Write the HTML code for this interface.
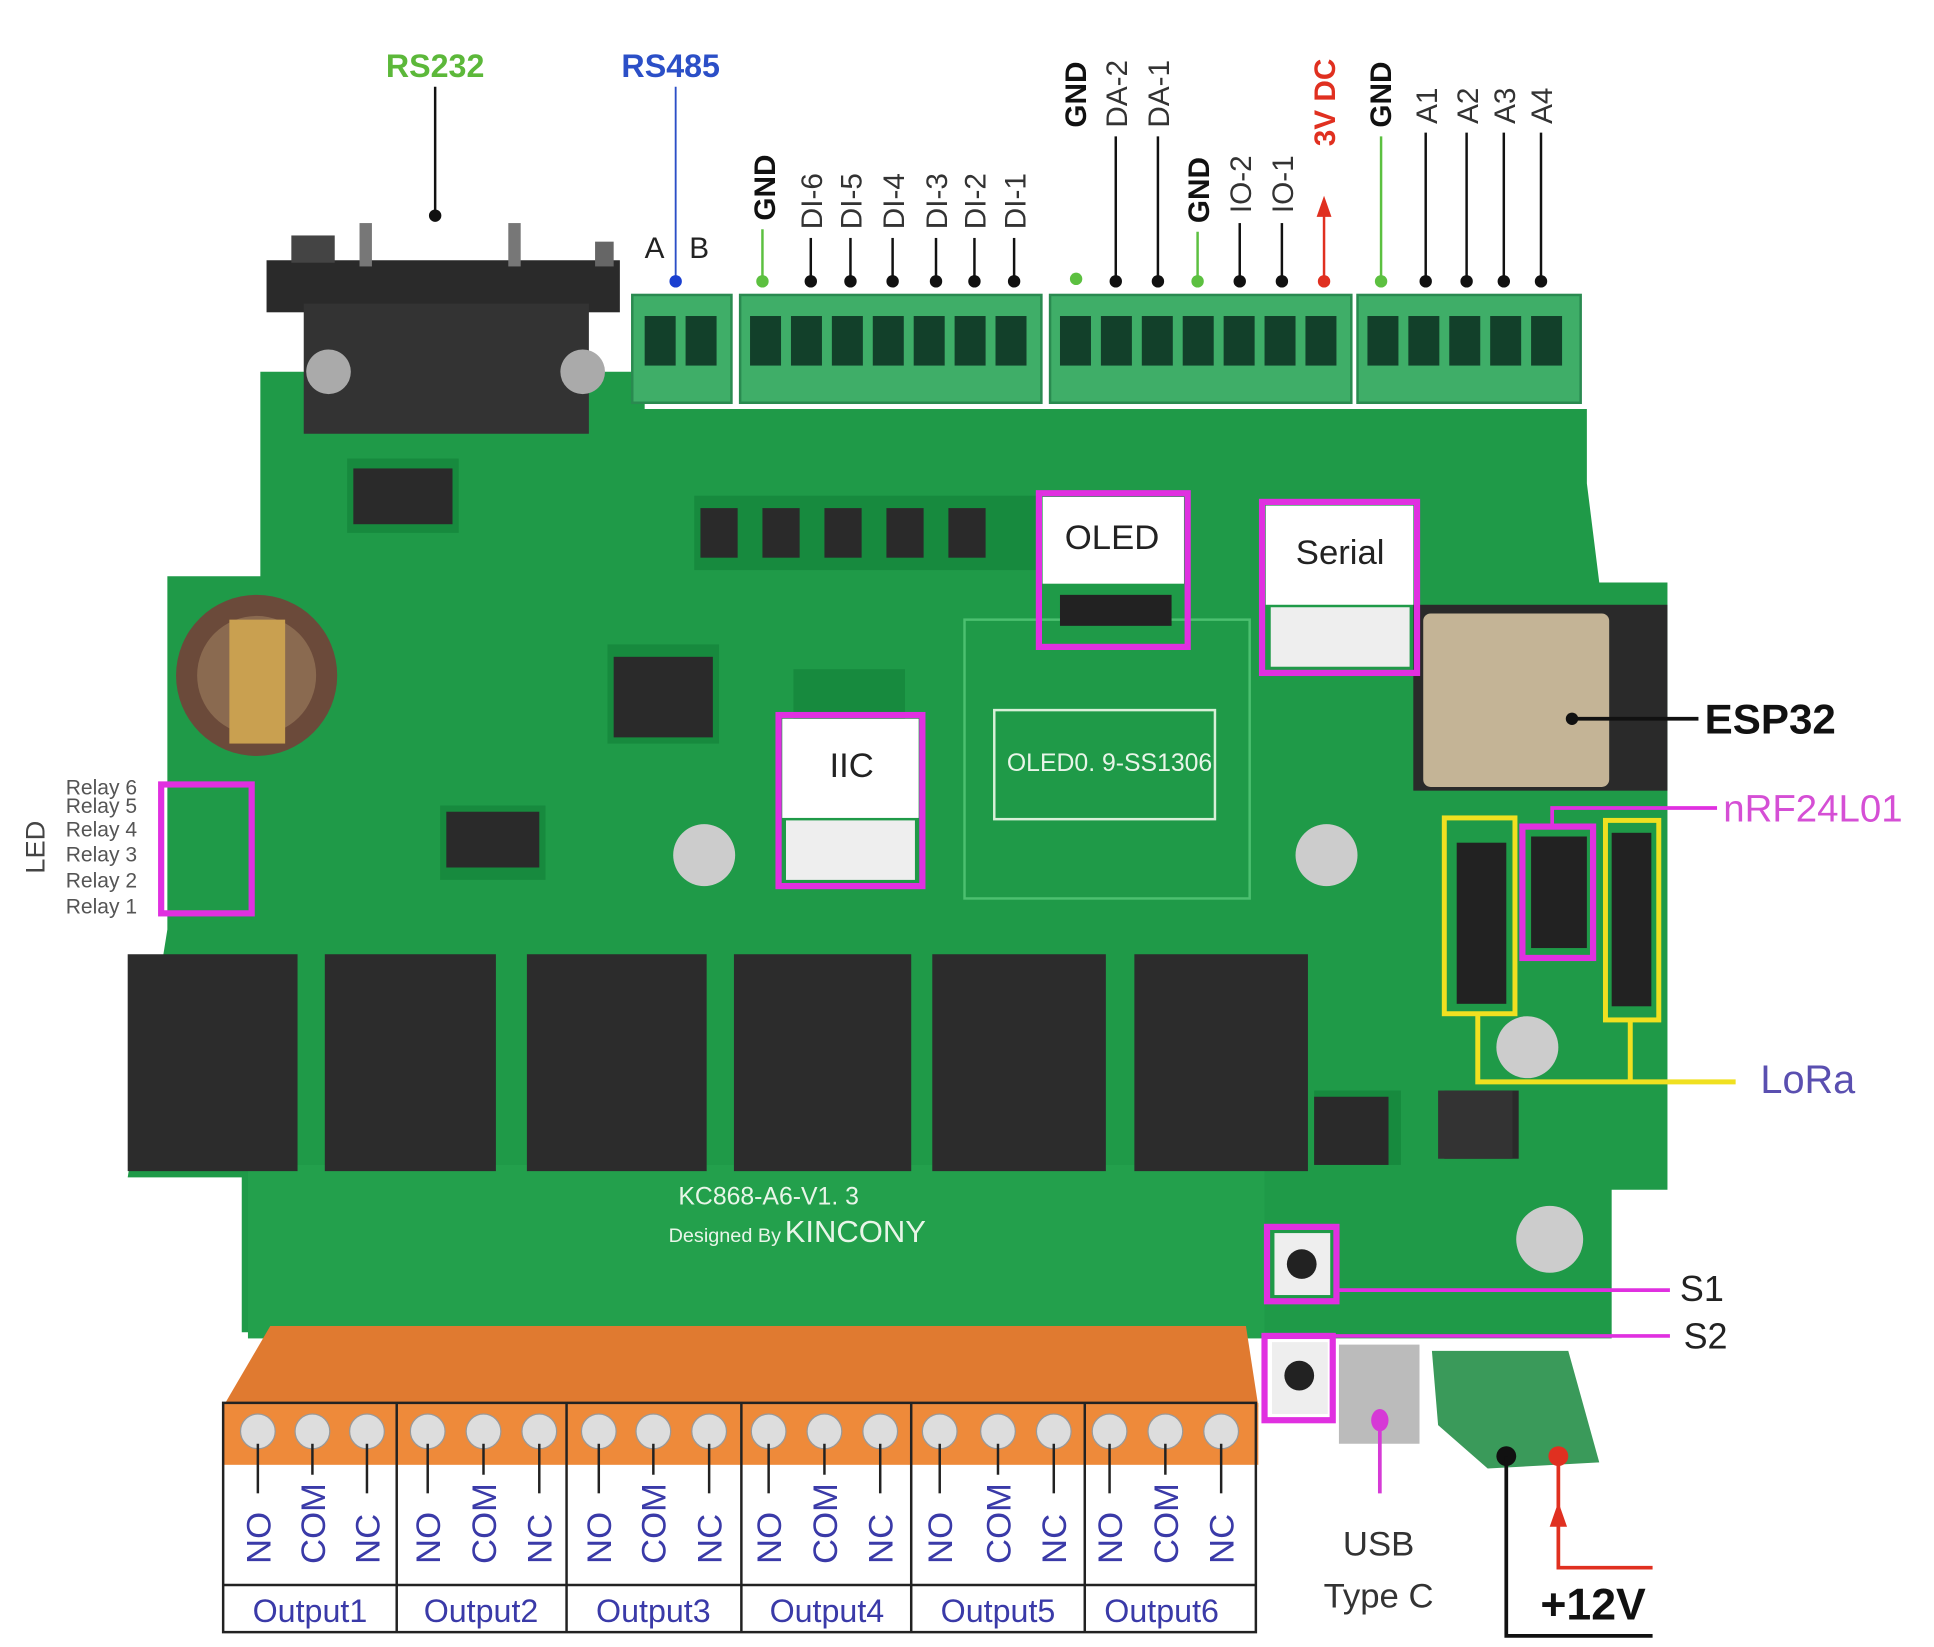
<!DOCTYPE html>
<html><head><meta charset="utf-8"><style>
html,body{margin:0;padding:0;background:#fff;}
svg{display:block;}
text{font-family:"Liberation Sans",sans-serif;}
</style></head><body>
<svg width="1934" height="1647" viewBox="0 0 1560 1329" preserveAspectRatio="none" xmlns="http://www.w3.org/2000/svg">
<rect width="1560" height="1329" fill="#fff"/>
<!-- PCB -->
<path d="M210 300 L520 300 L520 330 L1280 330 L1280 390 L1290 470 L1345 470 L1345 960 L1300 960 L1300 1080 L1020 1080 L1020 1075 L195 1075 L195 950 L103 950 L135 750 L135 465 L210 465 Z" fill="#1f9a48"/>
<rect x="200" y="940" width="820" height="140" fill="#23a04c"/>
<g fill="#178a3e">
<rect x="280" y="370" width="90" height="60"/><rect x="490" y="520" width="90" height="80"/>
<rect x="640" y="540" width="90" height="60"/><rect x="355" y="650" width="85" height="60"/>
<rect x="560" y="400" width="280" height="60"/><rect x="1060" y="880" width="70" height="60"/>
</g>
<g fill="#2a2a2a"><rect x="285" y="378" width="80" height="45"/><rect x="495" y="530" width="80" height="65"/><rect x="360" y="655" width="75" height="45"/><rect x="565" y="410" width="30" height="40"/><rect x="615" y="410" width="30" height="40"/><rect x="665" y="410" width="30" height="40"/><rect x="715" y="410" width="30" height="40"/><rect x="765" y="410" width="30" height="40"/><rect x="1060" y="885" width="60" height="55"/><rect x="1165" y="880" width="60" height="55"/></g>
<rect x="778" y="500" width="230" height="225" fill="none" stroke="#4cc070" stroke-width="2"/>
<rect x="802" y="573" width="178" height="88" fill="none" stroke="#d8f0d8" stroke-width="2"/>
<text x="895" y="622" font-size="20" fill="#e8f5e8" text-anchor="middle" font-family="Liberation Serif,serif">OLED0. 9-SS1306</text>
<text x="620" y="972" font-size="20" fill="#e8f5e8" text-anchor="middle" font-family="Liberation Serif,serif">KC868-A6-V1. 3</text>
<text x="630" y="1002" font-size="16" fill="#e8f5e8" text-anchor="end" font-family="Liberation Serif,serif">Designed By</text>
<text x="633" y="1002" font-size="25" fill="#e8f5e8">KINCONY</text>
<!-- battery -->
<circle cx="207" cy="545" r="65" fill="#6b4a3a"/><circle cx="207" cy="545" r="48" fill="#8a6a50"/><rect x="185" y="500" width="45" height="100" fill="#c9a050"/>
<!-- ESP32 -->
<rect x="1140" y="488" width="205" height="150" fill="#2a2a2a"/><rect x="1148" y="495" width="150" height="140" fill="#c4b496" rx="6"/>
<!-- caps -->
<circle cx="568" cy="690" r="25" fill="#ccc"/><circle cx="1070" cy="690" r="25" fill="#ccc"/><circle cx="1232" cy="845" r="25" fill="#ccc"/><circle cx="1250" cy="1000" r="27" fill="#ccc"/>
<rect x="1160" y="880" width="60" height="55" fill="#333"/>
<!-- DB9 -->
<rect x="215" y="210" width="285" height="42" fill="#2a2a2a"/>
<rect x="245" y="245" width="230" height="105" fill="#333"/>
<rect x="290" y="180" width="10" height="35" fill="#777"/><rect x="410" y="180" width="10" height="35" fill="#777"/>
<rect x="235" y="190" width="35" height="22" fill="#444"/><rect x="480" y="195" width="15" height="20" fill="#666"/>
<circle cx="265" cy="300" r="18" fill="#aaa"/><circle cx="470" cy="300" r="18" fill="#aaa"/>
<!-- green terminal blocks -->
<g fill="#3fae68" stroke="#2a8a50" stroke-width="2">
<rect x="510" y="238" width="80" height="87"/><rect x="597" y="238" width="243" height="87"/><rect x="847" y="238" width="243" height="87"/><rect x="1095" y="238" width="180" height="87"/>
</g>
<g fill="#12402a">
<rect x="520" y="255" width="25" height="40"/><rect x="553" y="255" width="25" height="40"/>
<rect x="605" y="255" width="25" height="40"/><rect x="638" y="255" width="25" height="40"/><rect x="671" y="255" width="25" height="40"/><rect x="704" y="255" width="25" height="40"/><rect x="737" y="255" width="25" height="40"/><rect x="770" y="255" width="25" height="40"/><rect x="803" y="255" width="25" height="40"/>
<rect x="855" y="255" width="25" height="40"/><rect x="888" y="255" width="25" height="40"/><rect x="921" y="255" width="25" height="40"/><rect x="954" y="255" width="25" height="40"/><rect x="987" y="255" width="25" height="40"/><rect x="1020" y="255" width="25" height="40"/><rect x="1053" y="255" width="25" height="40"/>
<rect x="1103" y="255" width="25" height="40"/><rect x="1136" y="255" width="25" height="40"/><rect x="1169" y="255" width="25" height="40"/><rect x="1202" y="255" width="25" height="40"/><rect x="1235" y="255" width="25" height="40"/>
</g>
<!-- relays -->
<g fill="#2c2c2c"><rect x="103" y="770" width="137" height="175"/><rect x="262" y="770" width="138" height="175"/><rect x="425" y="770" width="145" height="175"/><rect x="592" y="770" width="143" height="175"/><rect x="752" y="770" width="140" height="175"/><rect x="915" y="770" width="140" height="175"/></g>
<!-- orange terminals -->
<path d="M218 1070 L1005 1070 L1015 1135 L180 1135 Z" fill="#e07a30"/>
<rect x="180" y="1132" width="835" height="50" fill="#ee8a3a"/>
<g fill="#ddd" stroke="#999">
<circle cx="208" cy="1155" r="14"/><circle cx="252" cy="1155" r="14"/><circle cx="296" cy="1155" r="14"/>
<circle cx="345" cy="1155" r="14"/><circle cx="390" cy="1155" r="14"/><circle cx="435" cy="1155" r="14"/>
<circle cx="483" cy="1155" r="14"/><circle cx="527" cy="1155" r="14"/><circle cx="572" cy="1155" r="14"/>
<circle cx="620" cy="1155" r="14"/><circle cx="665" cy="1155" r="14"/><circle cx="710" cy="1155" r="14"/>
<circle cx="758" cy="1155" r="14"/><circle cx="805" cy="1155" r="14"/><circle cx="850" cy="1155" r="14"/>
<circle cx="895" cy="1155" r="14"/><circle cx="940" cy="1155" r="14"/><circle cx="985" cy="1155" r="14"/>
</g>
<!-- output table -->
<g stroke="#222" stroke-width="2" fill="none">
<rect x="180" y="1132" width="833" height="185"/>
<line x1="180" y1="1279" x2="1013" y2="1279"/>
<line x1="320" y1="1132" x2="320" y2="1317"/><line x1="457" y1="1132" x2="457" y2="1317"/><line x1="598" y1="1132" x2="598" y2="1317"/><line x1="735" y1="1132" x2="735" y2="1317"/><line x1="875" y1="1132" x2="875" y2="1317"/>
</g>
<g stroke="#222" stroke-width="2">
<line x1="208" y1="1165" x2="208" y2="1205"/><line x1="252" y1="1165" x2="252" y2="1190"/><line x1="296" y1="1165" x2="296" y2="1205"/>
<line x1="345" y1="1165" x2="345" y2="1205"/><line x1="390" y1="1165" x2="390" y2="1190"/><line x1="435" y1="1165" x2="435" y2="1205"/>
<line x1="483" y1="1165" x2="483" y2="1205"/><line x1="527" y1="1165" x2="527" y2="1190"/><line x1="572" y1="1165" x2="572" y2="1205"/>
<line x1="620" y1="1165" x2="620" y2="1205"/><line x1="665" y1="1165" x2="665" y2="1190"/><line x1="710" y1="1165" x2="710" y2="1205"/>
<line x1="758" y1="1165" x2="758" y2="1205"/><line x1="805" y1="1165" x2="805" y2="1190"/><line x1="850" y1="1165" x2="850" y2="1205"/>
<line x1="895" y1="1165" x2="895" y2="1205"/><line x1="940" y1="1165" x2="940" y2="1190"/><line x1="985" y1="1165" x2="985" y2="1205"/>
</g>
<g font-size="28" fill="#3a3aa8">
<text transform="translate(218,1262) rotate(-90)">NO</text><text transform="translate(262,1262) rotate(-90)">COM</text><text transform="translate(306,1262) rotate(-90)">NC</text>
<text transform="translate(355,1262) rotate(-90)">NO</text><text transform="translate(400,1262) rotate(-90)">COM</text><text transform="translate(445,1262) rotate(-90)">NC</text>
<text transform="translate(493,1262) rotate(-90)">NO</text><text transform="translate(537,1262) rotate(-90)">COM</text><text transform="translate(582,1262) rotate(-90)">NC</text>
<text transform="translate(630,1262) rotate(-90)">NO</text><text transform="translate(675,1262) rotate(-90)">COM</text><text transform="translate(720,1262) rotate(-90)">NC</text>
<text transform="translate(768,1262) rotate(-90)">NO</text><text transform="translate(815,1262) rotate(-90)">COM</text><text transform="translate(860,1262) rotate(-90)">NC</text>
<text transform="translate(905,1262) rotate(-90)">NO</text><text transform="translate(950,1262) rotate(-90)">COM</text><text transform="translate(995,1262) rotate(-90)">NC</text>
</g>
<g font-size="26" fill="#3a3aa8" text-anchor="middle">
<text x="250" y="1309">Output1</text><text x="388" y="1309">Output2</text><text x="527" y="1309">Output3</text><text x="667" y="1309">Output4</text><text x="805" y="1309">Output5</text><text x="937" y="1309">Output6</text>
</g>
<!-- right bottom: buttons, usb, power -->
<rect x="1028" y="995" width="45" height="50" fill="#eee"/><circle cx="1050" cy="1020" r="12" fill="#222"/>
<rect x="1026" y="1083" width="45" height="58" fill="#eee"/><circle cx="1048" cy="1110" r="12" fill="#222"/>
<rect x="1080" y="1085" width="65" height="80" fill="#bbb"/>
<path d="M1155 1090 L1265 1090 L1290 1180 L1200 1185 L1160 1150 Z" fill="#3a9a5a"/>
<line x1="1113" y1="1146" x2="1113" y2="1205" stroke="#d63ad6" stroke-width="3"/><ellipse cx="1113" cy="1146" rx="7" ry="9" fill="#d63ad6"/>
<text x="1112" y="1255" font-size="28" fill="#333" text-anchor="middle">USB</text>
<text x="1112" y="1297" font-size="28" fill="#333" text-anchor="middle">Type C</text>
<circle cx="1215" cy="1175" r="8" fill="#111"/><polyline points="1215,1175 1215,1320 1333,1320" fill="none" stroke="#111" stroke-width="3"/>
<circle cx="1257" cy="1175" r="8" fill="#e03020"/><polyline points="1257,1175 1257,1265 1333,1265" fill="none" stroke="#e03020" stroke-width="3"/>
<polygon points="1257,1212 1250,1232 1264,1232" fill="#e03020"/>
<text x="1285" y="1307" font-size="36" font-weight="bold" fill="#111" text-anchor="middle">+12V</text>
<!-- pink boxes -->
<g fill="none" stroke="#e030e0" stroke-width="5">
<rect x="838" y="398" width="120" height="124"/><rect x="1018" y="405" width="125" height="138"/><rect x="628" y="577" width="116" height="138"/>
<rect x="130" y="633" width="73" height="104"/><rect x="1022" y="990" width="56" height="60"/><rect x="1020" y="1078" width="55" height="68"/><rect x="1228" y="667" width="57" height="106"/>
</g>
<rect x="841" y="401" width="114" height="70" fill="#fff"/><text x="897" y="443" font-size="28" fill="#222" text-anchor="middle">OLED</text>
<rect x="855" y="480" width="90" height="25" fill="#222"/>
<rect x="1021" y="408" width="119" height="80" fill="#fff"/><text x="1081" y="455" font-size="28" fill="#222" text-anchor="middle">Serial</text>
<rect x="1025" y="490" width="112" height="48" fill="#eee"/>
<rect x="631" y="580" width="110" height="80" fill="#fff"/><text x="687" y="627" font-size="28" fill="#222" text-anchor="middle">IIC</text>
<rect x="634" y="662" width="104" height="48" fill="#eee"/>
<g stroke="#e030e0" stroke-width="3">
<line x1="1078" y1="1041" x2="1347" y2="1041"/><line x1="1075" y1="1078" x2="1347" y2="1078"/>
<polyline points="1252,667 1252,652 1385,652" fill="none"/>
</g>
<text x="1355" y="1050" font-size="29" fill="#222">S1</text><text x="1358" y="1088" font-size="29" fill="#222">S2</text>
<text x="1390" y="663" font-size="31" fill="#d54fd5">nRF24L01</text>
<!-- yellow -->
<rect x="1175" y="680" width="40" height="130" fill="#222"/><rect x="1235" y="675" width="45" height="90" fill="#222"/><rect x="1300" y="672" width="32" height="140" fill="#222"/>
<g fill="none" stroke="#f0e020" stroke-width="4">
<rect x="1165" y="660" width="57" height="158"/><rect x="1295" y="662" width="43" height="161"/>
<polyline points="1192,818 1192,873 1400,873"/><line x1="1315" y1="823" x2="1315" y2="873"/>
</g>
<text x="1420" y="882" font-size="32" fill="#5a4fb0">LoRa</text>
<line x1="1268" y1="580" x2="1370" y2="580" stroke="#111" stroke-width="3"/><circle cx="1268" cy="580" r="5" fill="#111"/>
<text x="1375" y="592" font-size="34" font-weight="bold" fill="#111">ESP32</text>
<!-- LED labels -->
<text transform="translate(36,705) rotate(-90)" font-size="22" fill="#444">LED</text>
<g font-size="17" fill="#555" font-family="Liberation Serif,serif"><text x="53" y="641">Relay 6</text><text x="53" y="656">Relay 5</text><text x="53" y="675">Relay 4</text><text x="53" y="695">Relay 3</text><text x="53" y="716">Relay 2</text><text x="53" y="737">Relay 1</text></g>
<!-- top labels -->
<text x="351" y="62" font-size="26" font-weight="bold" fill="#5cb83a" text-anchor="middle">RS232</text>
<line x1="351" y1="70" x2="351" y2="172" stroke="#111" stroke-width="2"/><circle cx="351" cy="174" r="5" fill="#111"/>
<text x="541" y="62" font-size="26" font-weight="bold" fill="#2b4fc7" text-anchor="middle">RS485</text>
<line x1="545" y1="70" x2="545" y2="226" stroke="#2b4fc7" stroke-width="1.5"/><circle cx="545" cy="227" r="5" fill="#1a3fd0"/>
<text x="528" y="208" font-size="24" fill="#222" text-anchor="middle">A</text><text x="564" y="208" font-size="24" fill="#222" text-anchor="middle">B</text>
<g font-size="24" fill="#333">
<text transform="translate(625,178) rotate(-90)" font-weight="bold" fill="#111">GND</text>
<text transform="translate(663,185) rotate(-90)">DI-6</text><text transform="translate(695,185) rotate(-90)">DI-5</text><text transform="translate(729,185) rotate(-90)">DI-4</text><text transform="translate(764,185) rotate(-90)">DI-3</text><text transform="translate(795,185) rotate(-90)">DI-2</text><text transform="translate(827,185) rotate(-90)">DI-1</text>
<text transform="translate(876,103) rotate(-90)" font-weight="bold" fill="#111">GND</text>
<text transform="translate(909,103) rotate(-90)">DA-2</text><text transform="translate(943,103) rotate(-90)">DA-1</text>
<text transform="translate(975,180) rotate(-90)" font-weight="bold" fill="#111">GND</text>
<text transform="translate(1009,172) rotate(-90)">IO-2</text><text transform="translate(1043,172) rotate(-90)">IO-1</text>
<text transform="translate(1077,118) rotate(-90)" font-weight="bold" fill="#e03020">3V DC</text>
<text transform="translate(1122,103) rotate(-90)" font-weight="bold" fill="#111">GND</text>
<text transform="translate(1159,100) rotate(-90)">A1</text><text transform="translate(1192,100) rotate(-90)">A2</text><text transform="translate(1222,100) rotate(-90)">A3</text><text transform="translate(1252,100) rotate(-90)">A4</text>
</g>
<g stroke-width="2">
<line x1="615" y1="185" x2="615" y2="226" stroke="#5cc040"/>
<line x1="654" y1="192" x2="654" y2="226" stroke="#111"/><line x1="686" y1="192" x2="686" y2="226" stroke="#111"/><line x1="720" y1="192" x2="720" y2="226" stroke="#111"/><line x1="755" y1="192" x2="755" y2="226" stroke="#111"/><line x1="786" y1="192" x2="786" y2="226" stroke="#111"/><line x1="818" y1="192" x2="818" y2="226" stroke="#111"/>
<line x1="900" y1="110" x2="900" y2="226" stroke="#111"/><line x1="934" y1="110" x2="934" y2="226" stroke="#111"/>
<line x1="966" y1="187" x2="966" y2="226" stroke="#5cc040"/>
<line x1="1000" y1="180" x2="1000" y2="226" stroke="#111"/><line x1="1034" y1="180" x2="1034" y2="226" stroke="#111"/>
<line x1="1068" y1="165" x2="1068" y2="226" stroke="#e03020"/>
<line x1="1114" y1="110" x2="1114" y2="226" stroke="#5cc040"/>
<line x1="1150" y1="107" x2="1150" y2="226" stroke="#111"/><line x1="1183" y1="107" x2="1183" y2="226" stroke="#111"/><line x1="1213" y1="107" x2="1213" y2="226" stroke="#111"/><line x1="1243" y1="107" x2="1243" y2="226" stroke="#111"/>
</g>
<polygon points="1068,158 1062,175 1074,175" fill="#e03020"/>
<g>
<circle cx="615" cy="227" r="5" fill="#5cc040"/><circle cx="654" cy="227" r="5" fill="#111"/><circle cx="686" cy="227" r="5" fill="#111"/><circle cx="720" cy="227" r="5" fill="#111"/><circle cx="755" cy="227" r="5" fill="#111"/><circle cx="786" cy="227" r="5" fill="#111"/><circle cx="818" cy="227" r="5" fill="#111"/>
<circle cx="868" cy="225" r="5" fill="#5cc040"/><circle cx="900" cy="227" r="5" fill="#111"/><circle cx="934" cy="227" r="5" fill="#111"/><circle cx="966" cy="227" r="5" fill="#5cc040"/><circle cx="1000" cy="227" r="5" fill="#111"/><circle cx="1034" cy="227" r="5" fill="#111"/><circle cx="1068" cy="227" r="5" fill="#e03020"/>
<circle cx="1114" cy="227" r="5" fill="#5cc040"/><circle cx="1150" cy="227" r="5" fill="#111"/><circle cx="1183" cy="227" r="5" fill="#111"/><circle cx="1213" cy="227" r="5" fill="#111"/><circle cx="1243" cy="227" r="5" fill="#111"/>
</g>
</svg>
</body></html>
